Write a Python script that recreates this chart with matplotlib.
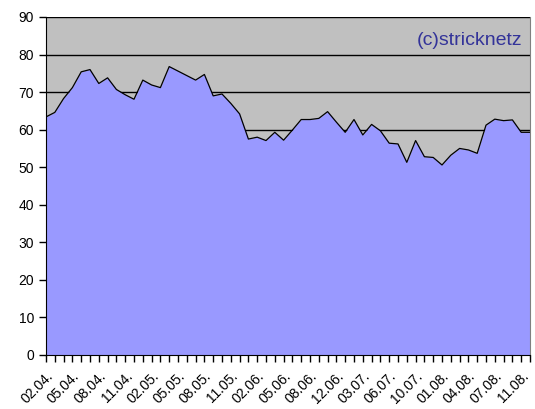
import matplotlib
matplotlib.use("Agg")
import matplotlib.pyplot as plt
import numpy as np

# values, one per category
values = [
    63.4, 64.6, 68.3, 71.2, 75.4, 76.0, 72.3, 73.8, 70.7, 69.3,
    68.1, 73.2, 71.9, 71.2, 76.8, 75.6, 74.4, 73.2, 74.7, 69.0,
    69.5, 67.0, 64.2, 57.5, 58.0, 57.1, 59.3, 57.2, 59.9, 62.7,
    62.7, 63.0, 64.8, 62.0, 59.3, 62.7, 58.6, 61.4, 59.7, 56.4,
    56.2, 51.3, 57.1, 52.8, 52.6, 50.6, 53.2, 55.0, 54.6, 53.7,
    61.2, 62.8, 62.4, 62.6, 59.3, 59.3,
]
tick_labels = [
    "02.04.", "05.04.", "08.04.", "11.04.", "02.05.", "05.05.", "08.05.",
    "11.05.", "02.06.", "05.06.", "08.06.", "12.06.", "03.07.", "06.07.",
    "10.07.", "01.08.", "04.08.", "07.08.", "11.08.",
]
label_step = 3
y_ticks = [0, 10, 20, 30, 40, 50, 60, 70, 80, 90]

plt.rcParams["font.family"] = ["Liberation Sans", "DejaVu Sans"]

fig = plt.figure(figsize=(5.35, 4.09), dpi=100)
ax = fig.add_axes([46 / 535, 54 / 409, 484 / 535, 338 / 409])
ax.set_facecolor("#C0C0C0")

x = np.arange(len(values))
for t in y_ticks[1:]:
    ax.axhline(t, color="black", linewidth=1, zorder=1)
ax.fill_between(x, 0, values, color="#9999FF", zorder=2, linewidth=0)
ax.plot(x, values, color="black", linewidth=0.9, zorder=3)

ax.set_xlim(0, len(values) - 1)
ax.set_ylim(0, 90)
ax.set_yticks(y_ticks)
ax.set_yticklabels([str(t) for t in y_ticks], fontsize=10)
ax.set_xticks(x)
labels = ["" for _ in x]
for i, lab in enumerate(tick_labels):
    labels[i * label_step] = lab
ax.set_xticklabels(labels, fontsize=10, rotation=45, ha="right", va="top",
                   rotation_mode="anchor")
ax.tick_params(axis="both", direction="out", length=5, width=1, color="black")
ax.tick_params(axis="x", pad=5)

ax.spines["left"].set_color("black")
ax.spines["bottom"].set_color("black")
ax.spines["top"].set_visible(False)
ax.spines["right"].set_color("#808080")

ax.text(0.985, 0.93, "(c)stricknetz", transform=ax.transAxes, ha="right",
        va="center", fontsize=14, color="#333399", zorder=4)

fig.savefig("out.png", dpi=100)
